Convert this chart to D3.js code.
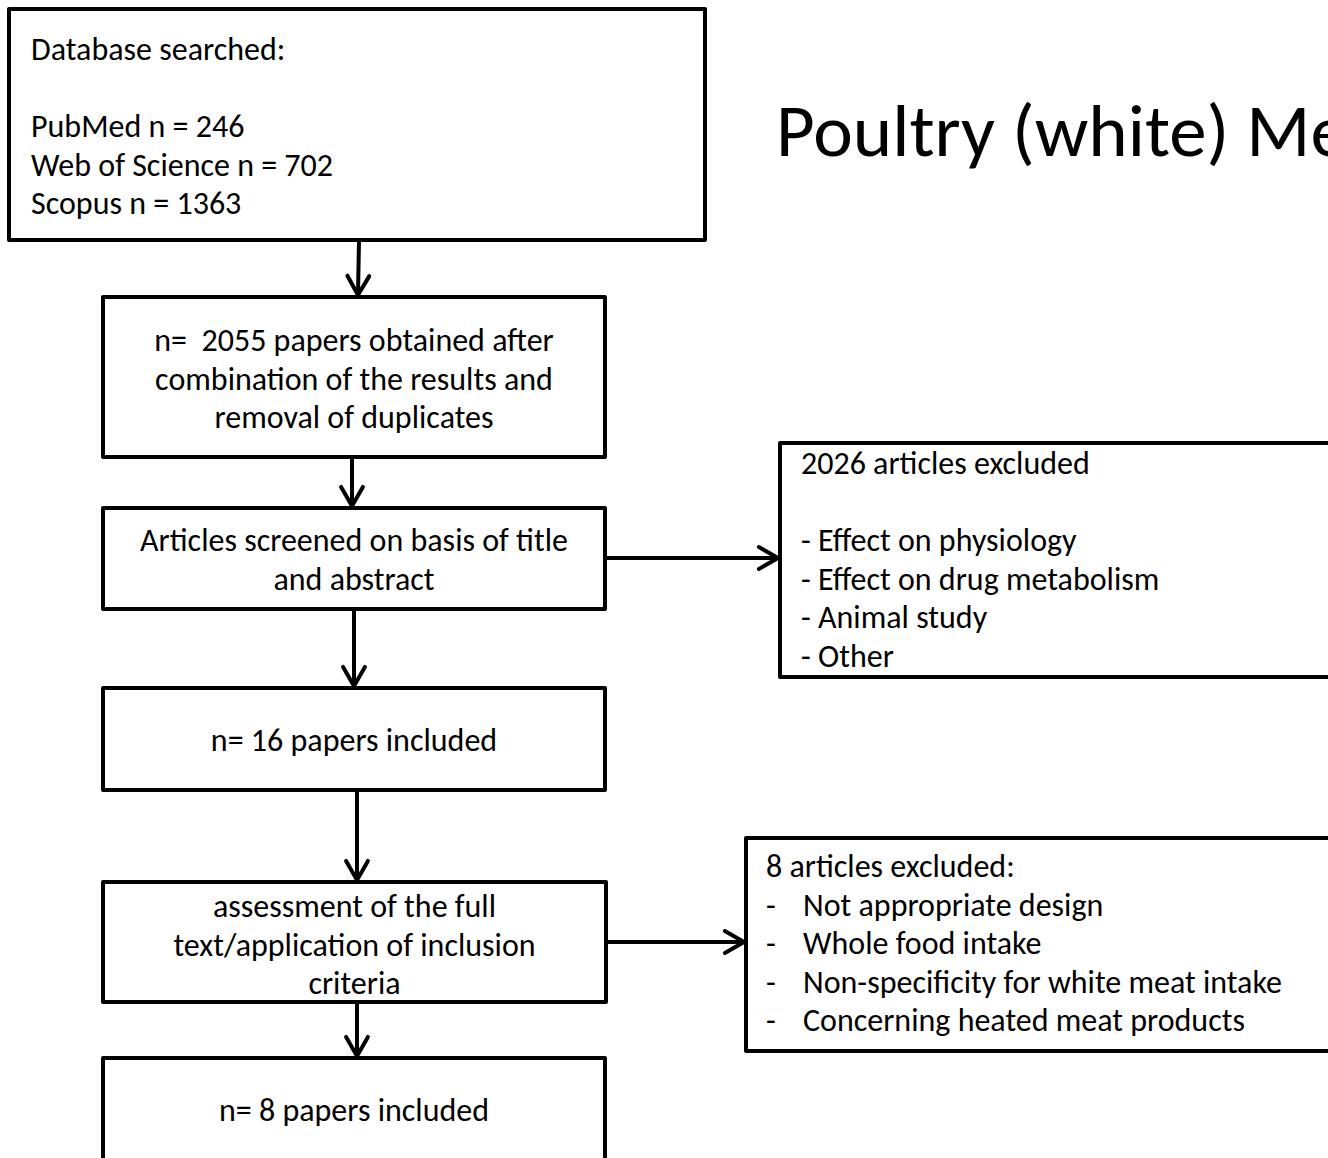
<!DOCTYPE html>
<html>
<head>
<meta charset="utf-8">
<script src="https://cdn.jsdelivr.net/npm/d3@7"></script>
<style>
  html, body { margin: 0; padding: 0; background: #fff; overflow: hidden; }
  svg { display: block; }
  text { font-family: Carlito, Calibri, "Open Sans", sans-serif; fill: #000; }
</style>
</head>
<body>
<svg id="chart" width="1328" height="1158"></svg>
<script>
var title = "Poultry (white) Meat";

// text of each box
var searchLines = ["Database searched:", "", "PubMed n = 246", "Web of Science n = 702", "Scopus n = 1363"];
var combinedLines = ["n=  2055 papers obtained after", "combination of the results and", "removal of duplicates"];
var screenedLines = ["Articles screened on basis of title", "and abstract"];
var excluded1Lines = ["2026 articles excluded", "", "- Effect on physiology", "- Effect on drug metabolism", "- Animal study", "- Other"];
var included1Lines = ["n= 16 papers included"];
var assessLines = ["assessment of the full", "text/application of inclusion", "criteria"];
var excluded2Head = "8 articles excluded:";
var excluded2Items = ["Not appropriate design", "Whole food intake", "Non-specificity for white meat intake", "Concerning heated meat products"];
var included2Lines = ["n= 8 papers included"];

var svg = d3.select("#chart");
var lineH = 38.5;
var stroke = 4;
var fs = 32;

// layout: x, y, w, h of each box
var boxes = [
    {id: "search",  x: 9,   y: 9,    w: 696, h: 231, lines: searchLines,   align: "start",  tx: 31,  ty: 60},
    {id: "comb",    x: 103, y: 297,  w: 502, h: 160, lines: combinedLines, align: "middle", ty: 351},
    {id: "screen",  x: 103, y: 508,  w: 502, h: 101, lines: screenedLines, align: "middle", ty: 551},
    {id: "excl1",   x: 780, y: 443,  w: 600, h: 234, lines: excluded1Lines, align: "start", tx: 801, ty: 474},
    {id: "inc1",    x: 103, y: 688,  w: 502, h: 102, lines: included1Lines, align: "middle", ty: 751},
    {id: "assess",  x: 103, y: 882,  w: 503, h: 120, lines: assessLines,   align: "middle", ty: 917},
    {id: "excl2",   x: 746, y: 838,  w: 640, h: 213, lines: [],            align: "start",  tx: 766, ty: 877},
    {id: "inc2",    x: 103, y: 1058, w: 502, h: 140, lines: included2Lines, align: "middle", ty: 1121}
];

boxes.forEach(function(b) {
    svg.append("rect")
        .attr("x", b.x).attr("y", b.y)
        .attr("width", b.w).attr("height", b.h)
        .attr("fill", "#fff")
        .attr("stroke", "#000")
        .attr("stroke-width", stroke)
        .attr("stroke-linejoin", "round");

    var tx = b.align === "middle" ? b.x + b.w / 2 : b.tx;
    svg.selectAll("text.t-" + b.id)
        .data(b.lines)
        .enter()
        .append("text")
        .attr("class", "t-" + b.id)
        .attr("x", tx)
        .attr("y", function(d, i) { return b.ty + i * lineH; })
        .attr("text-anchor", b.align)
        .attr("font-size", fs)
        .style("white-space", "pre")
        .text(function(d) { return d; });
});

// second exclusion box has a heading and dashed list
var ex2 = boxes[6];
svg.append("text")
    .attr("x", ex2.tx).attr("y", ex2.ty)
    .attr("font-size", fs)
    .text(excluded2Head);
svg.selectAll("text.dash2")
    .data(excluded2Items)
    .enter()
    .append("text")
    .attr("class", "dash2")
    .attr("x", ex2.tx)
    .attr("y", function(d, i) { return ex2.ty + (i + 1) * lineH; })
    .attr("font-size", fs)
    .text("-");
svg.selectAll("text.item2")
    .data(excluded2Items)
    .enter()
    .append("text")
    .attr("class", "item2")
    .attr("x", 803)
    .attr("y", function(d, i) { return ex2.ty + (i + 1) * lineH; })
    .attr("font-size", fs)
    .text(function(d) { return d; });

// title, runs off the right edge like in the original slide
svg.append("text")
    .attr("x", 776).attr("y", 156)
    .attr("font-size", 75)
    .text(title);

// arrows
var arrows = [
    [359, 240, 358, 295],
    [352, 457, 352, 506],
    [605, 558, 778, 558],
    [354, 609, 354, 686],
    [357, 790, 357, 880],
    [607, 942, 744, 942],
    [357, 1002, 357, 1056]
];
var head = 22;
var spread = 0.52;

arrows.forEach(function(a) {
    var ang = Math.atan2(a[3] - a[1], a[2] - a[0]);
    svg.append("line")
        .attr("x1", a[0]).attr("y1", a[1])
        .attr("x2", a[2]).attr("y2", a[3])
        .attr("stroke", "#000")
        .attr("stroke-width", stroke);
    var p = d3.path();
    p.moveTo(a[2] - head * Math.cos(ang - spread), a[3] - head * Math.sin(ang - spread));
    p.lineTo(a[2], a[3]);
    p.lineTo(a[2] - head * Math.cos(ang + spread), a[3] - head * Math.sin(ang + spread));
    svg.append("path")
        .attr("d", p.toString())
        .attr("fill", "none")
        .attr("stroke", "#000")
        .attr("stroke-width", stroke)
        .attr("stroke-linecap", "round")
        .attr("stroke-linejoin", "round");
});
</script>
</body>
</html>
